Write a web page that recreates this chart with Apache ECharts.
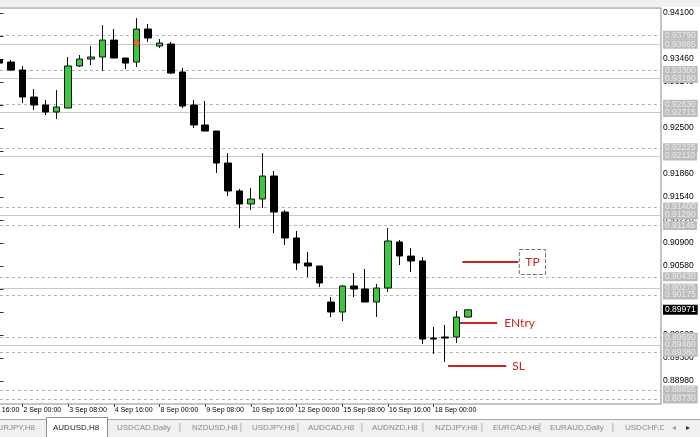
<!DOCTYPE html>
<html><head><meta charset="utf-8">
<script src="https://cdn.jsdelivr.net/npm/echarts@6/dist/echarts.min.js"></script>
<style>html,body{margin:0;padding:0;background:#fff}#c{width:700px;height:437px}</style>
</head><body><div id="c"></div><script>
// H8 bars of AUDUSD (bar number, open, close, low, high)
const barIndex = [0,1,2,3,4,5,6,7,8,9,10,11,12,13,14,15,16,17,18,19,20,21,22,23,24,25,26,27,28,29,30,31,32,33,34,35,36,37,38,39,40,41];
const opens  = [0.93446,0.93418,0.93307,0.92931,0.92820,0.92723,0.92778,0.93363,0.93460,0.93488,0.93724,0.93474,0.93418,0.93877,0.93641,0.93669,0.93279,0.92820,0.92542,0.92458,0.92013,0.91624,0.91443,0.91512,0.91832,0.91331,0.90970,0.90622,0.90580,0.90079,0.89940,0.90302,0.90260,0.90079,0.90274,0.90914,0.90719,0.90650,0.89578,0.89592,0.89592,0.89870];
const closes = [0.93404,0.93307,0.92931,0.92820,0.92723,0.92792,0.93363,0.93460,0.93488,0.93724,0.93474,0.93404,0.93877,0.93752,0.93683,0.93265,0.92806,0.92542,0.92458,0.92013,0.91624,0.91443,0.91512,0.91832,0.91331,0.90970,0.90622,0.90580,0.90344,0.89940,0.90302,0.90260,0.90079,0.90274,0.90928,0.90719,0.90650,0.89564,0.89564,0.89578,0.89870,0.89971];
const lows   = [0.93363,0.93293,0.92848,0.92750,0.92681,0.92625,0.92778,0.93349,0.93377,0.93293,0.93474,0.93321,0.93349,0.93697,0.93613,0.93251,0.92778,0.92500,0.92458,0.91874,0.91554,0.91109,0.91359,0.91387,0.91039,0.90872,0.90524,0.90427,0.90288,0.89870,0.89815,0.90149,0.90079,0.89870,0.90218,0.90594,0.90497,0.89495,0.89356,0.89244,0.89509,0.89857];
const highs  = [0.93474,0.93446,0.93363,0.93043,0.92890,0.93029,0.93488,0.93516,0.93641,0.93933,0.93877,0.93474,0.94030,0.93947,0.93738,0.93697,0.93335,0.92890,0.92876,0.92458,0.92152,0.91651,0.91665,0.92152,0.91902,0.91359,0.91067,0.90775,0.90580,0.90149,0.90316,0.90483,0.90538,0.90330,0.91109,0.90942,0.90830,0.90705,0.89731,0.89759,0.89954,0.89971];

// time axis labels (every 4th bar)
const tickBars   = [-2,2,6,10,14,18,22,26,30,34,38];
const tickLabels = ['29 Aug 16:00','2 Sep 00:00','3 Sep 08:00','4 Sep 16:00','8 Sep 00:00','9 Sep 08:00','10 Sep 16:00','12 Sep 00:00','15 Sep 08:00','16 Sep 16:00','18 Sep 00:00'];

// price scale ticks
const yTicks = [0.88980,0.89300,0.89620,0.89940,0.90260,0.90580,0.90900,0.91220,0.91540,0.91860,0.92180,0.92500,0.92820,0.93140,0.93460,0.93780,0.94100];

// horizontal levels drawn on the chart
const levels      = [0.93790,0.93665,0.93300,0.93190,0.92830,0.92715,0.92225,0.92110,0.91400,0.91290,0.91145,0.90430,0.90275,0.90175,0.89590,0.89480,0.89380,0.88855,0.88730];
const solidLevels = [0.93665,0.93190,0.92715,0.92110,0.91290,0.90275,0.89480];
const bidPrice = 0.89971;

// trade annotations
const tradeNames  = ['TP','ENtry','SL'];
const tradePrices = [0.90636,0.89787,0.89189];
const tradeFrom   = [40.5,40.3,39.25];
const tradeTo     = [45.4,43.55,44.35];

// arrow object
const markerBar = 12, markerPrice = 0.93683;

// terminal tabs
const tabNames = ['EURJPY,H8','AUDUSD,H8','USDCAD,Daily','NZDUSD,H8','USDJPY,H8','AUDCAD,H8','AUDNZD,H8','NZDJPY,H8','EURCAD,H8','EURAUD,Daily','USDCHF,Daily'];

const chart = echarts.init(document.getElementById('c'), null, {renderer:'canvas'});

const candleData = barIndex.map((b,i)=>[b, opens[i], closes[i], lows[i], highs[i]]);
const RED = '#cc2424';

const levelLines = levels.map(v=>{
  const solid = solidLevels.indexOf(v) >= 0;
  return {yAxis: v,
    lineStyle:{color: solid ? '#c8c8c8' : '#b0b0b0', width:1, type: solid ? 'solid' : [3,3]},
    label:{show:true, position:'end', distance:2, formatter: v.toFixed(5),
      backgroundColor:'#bcbcbc', color:'#ececec', fontSize:8.5, fontFamily:'Liberation Sans',
      lineHeight:9, padding:[0,2,0,2]}};
});
levelLines.push({yAxis: bidPrice, lineStyle:{color:'rgba(0,0,0,0)', width:1, type:'solid'},
  label:{show:true, position:'end', distance:2, formatter: bidPrice.toFixed(5),
    backgroundColor:'#000000', color:'#ffffff', fontSize:8.5, fontFamily:'Liberation Sans',
    lineHeight:10, padding:[0,2,0,2]}});

const tradeLines = tradeNames.map((n,i)=>{
  const lab = {show:true, position:'end', formatter:n, color:RED, fontFamily:'Lato', fontSize:12};
  if (n === 'TP') Object.assign(lab, {distance:1, borderColor:'#707070', borderWidth:1, borderType:'dashed', padding:[7,6,6,6]});
  else lab.distance = (n === 'SL') ? 6 : 7;
  return [{coord:[tradeFrom[i], tradePrices[i]], lineStyle:{color:RED, width:2, type:'solid'}, label:lab},
          {coord:[tradeTo[i], tradePrices[i]]}];
});

const tabY = 428;
const tabX = [35,53,117,192,252,308,372,435,493,550,625];
const sepX = [180,241,298,362,423,482,540,613];
const graphics = [
  {type:'rect', z:100, shape:{x:0,y:0,width:700,height:7}, style:{fill:'#f0f0f0'}},
  {type:'rect', z:100, shape:{x:0,y:419,width:700,height:18}, style:{fill:'#f0f0f0'}},
  {type:'line', z:100, shape:{x1:0,y1:419.5,x2:700,y2:419.5}, style:{stroke:'#a8a8a8', lineWidth:1}},
  {type:'rect', z:101, shape:{x:46.5,y:417.5,width:61,height:21}, style:{fill:'#ffffff', stroke:'#8c8c8c', lineWidth:1}}
];
tabNames.forEach((t,i)=>{
  graphics.push({type:'text', z:102, style:{text:t, x:tabX[i], y:tabY, align: i===0 ? 'right' : 'left', verticalAlign:'middle',
    fill: i===1 ? '#1a1a1a' : '#8a8a8a', font:'8px "Liberation Sans"'}});
});
sepX.forEach(x=>{
  graphics.push({type:'text', z:102, style:{text:'|', x:x, y:tabY, align:'center', verticalAlign:'middle', fill:'#a0a0a0', font:'9px "Liberation Sans"'}});
});
graphics.push({type:'rect', z:103, shape:{x:664,y:420,width:36,height:17}, style:{fill:'#f0f0f0'}});
graphics.push({type:'text', z:104, style:{text:'◂', x:674, y:tabY, align:'center', verticalAlign:'middle', fill:'#9a9a9a', font:'8px "DejaVu Sans"'}});
graphics.push({type:'text', z:104, style:{text:'▸', x:688, y:tabY, align:'center', verticalAlign:'middle', fill:'#333', font:'8px "DejaVu Sans"'}});

const option = {
  animation:false,
  backgroundColor:'#ffffff',
  grid:{left:-30.13, right:39, top:8, bottom:33, show:true, borderColor:'#8c8c8c', borderWidth:1, backgroundColor:'#ffffff', outerBoundsMode:'none'},
  xAxis:{type:'value', min:-2.6, max:57.89,
    axisLine:{show:false}, splitLine:{show:false},
    axisTick:{show:true, customValues:tickBars, length:3, lineStyle:{color:'#444'}},
    axisLabel:{customValues:tickBars, formatter:v=>tickLabels[tickBars.indexOf(v)], align:'left', margin:3,
      padding:[0,0,0,1], fontSize:7, fontFamily:'Liberation Sans', color:'#000'}},
  yAxis:{type:'value', position:'right', min:0.8866, max:0.9417,
    axisLine:{show:false}, splitLine:{show:false},
    axisTick:{show:true, customValues:yTicks, length:4, lineStyle:{color:'#333'}},
    axisLabel:{customValues:yTicks, formatter:v=>v.toFixed(5), margin:2, fontSize:8.5, fontFamily:'Liberation Sans', color:'#000'}},
  series:[
    {type:'candlestick', data:candleData, barWidth:7, clip:true, z:2,
      itemStyle:{color:'#3cc83c', color0:'#000000', borderColor:'#111111', borderColor0:'#000000', borderWidth:1},
      markLine:{silent:true, precision:5, symbol:['none','none'], z:5, data:tradeLines}},
    {type:'scatter', data:[[markerBar, markerPrice]], symbol:'circle', symbolSize:6, z:4,
      itemStyle:{color:'#e8642c', borderColor:'#c0392b', borderWidth:0.5},
      markLine:{silent:true, precision:5, symbol:['none','none'], z:1, data:levelLines}}
  ],
  graphic: graphics
};
chart.setOption(option);
</script></body></html>
